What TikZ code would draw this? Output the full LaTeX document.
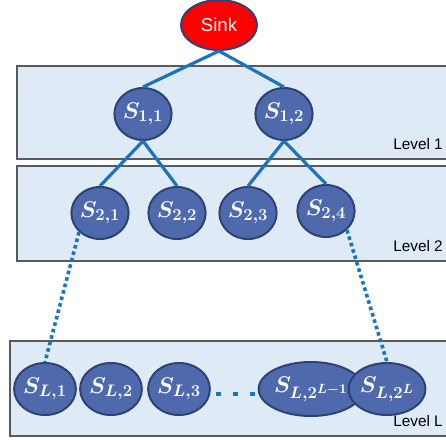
\RequirePackage{fix-cm}
\documentclass[tikz,border=0pt]{standalone}
\usepackage[no-math]{fontspec}
\setmainfont{Liberation Sans}
\usetikzlibrary{shapes.geometric}
\DeclareMathSizes{17}{17}{12.5}{10}
\definecolor{sinkred}{HTML}{FF0000}
\definecolor{nodeblue}{HTML}{4F69AD}
\definecolor{rimblue}{HTML}{2F4275}
\definecolor{linkblue}{HTML}{1B74BD}
\definecolor{levelfill}{HTML}{DEEAF6}
\definecolor{levelrim}{HTML}{5A5A5A}
\newcommand{\sid}[1]{\ensuremath{S_{#1}}}

\begin{document}
\begin{tikzpicture}[
      x=0.75pt, y=-0.75pt, % <-- pixel grid, y pointing down
      levelbox/.style={draw=levelrim, line width=1.5pt, fill=levelfill},
      levelname/.style={anchor=east, inner sep=0pt, font=\fontsize{11.5}{13}\selectfont},
      sensor/.style={ellipse, draw=rimblue, line width=1.5pt, fill=nodeblue, text=white,
        inner sep=0pt, minimum width=42pt, minimum height=39pt,
        font=\boldmath\fontsize{17}{19}\selectfont},
      sink/.style={sensor, fill=sinkred, minimum width=57pt, minimum height=37.5pt,
        font=\fontsize{14}{16}\selectfont},
      link/.style={draw=linkblue, line width=2.4pt},
      hop/.style={link, line width=2.7pt, dash pattern=on 2.7pt off 2.3pt}
    ]
    \useasboundingbox (0,0) rectangle (446,439);
    \clip (0,0) rectangle (446,439);

    % Level bands
    \draw[levelbox] (17,66) rectangle (470,159);
    \draw[levelbox] (17,166) rectangle (470,261);
    \draw[levelbox] (10,341) rectangle (470,436);
    \node[levelname] (lv1) at (443,144) {Level 1};
    \node[levelname] (lv2) at (443,246) {Level 2};
    \node[levelname] (lvL) at (443,421) {Level L};

    % Sink and sensors
    \node[sink] (sink) at (219,25) {Sink};

    \node[sensor] (s11) at (143,114) {\sid{1,1}};
    \node[sensor] (s12) at (284,114) {\sid{1,2}};

    \node[sensor] (s21) at (100,213) {\sid{2,1}};
    \node[sensor] (s22) at (177,213) {\sid{2,2}};
    \node[sensor] (s23) at (248,213) {\sid{2,3}};
    \node[sensor] (s24) at (326,211) {\sid{2,4}};

    \node[sensor] (sL1) at (45,389) {\sid{L,1}};
    \node[sensor] (sL2) at (111,389) {\sid{L,2}};
    \node[sensor] (sL3) at (179,389) {\sid{L,3}};
    \node[sensor, minimum width=55.5pt, minimum height=40.5pt] (sLm) at (311,389) {\sid{L,2^{L-1}}};
    \node[sensor] (sLn) at (387,389) {\sid{L,2^L}};

    % Tree links
    \draw[link] (sink.south) -- (s11.north);
    \draw[link] (sink.south) -- (s12.north);
    \draw[link] (s11.south) -- (s21.north);
    \draw[link] (s11.south) -- (s22.north);
    \draw[link] (s12.south) -- (s23.north);
    \draw[link] (s12.south) -- (s24.north);

    % Skipped levels
    \draw[hop] (s21.south west) -- (sL1.north);
    \draw[hop] (s24.south east) -- (sLn.north);
    \draw[link, line width=3.4pt, dash pattern=on 3.4pt off 9.35pt, dash phase=8.6pt]
      ([yshift=-3.75pt]sL3.east) -- ([yshift=-3.75pt]sLm.west);

  \end{tikzpicture}
\end{document}
